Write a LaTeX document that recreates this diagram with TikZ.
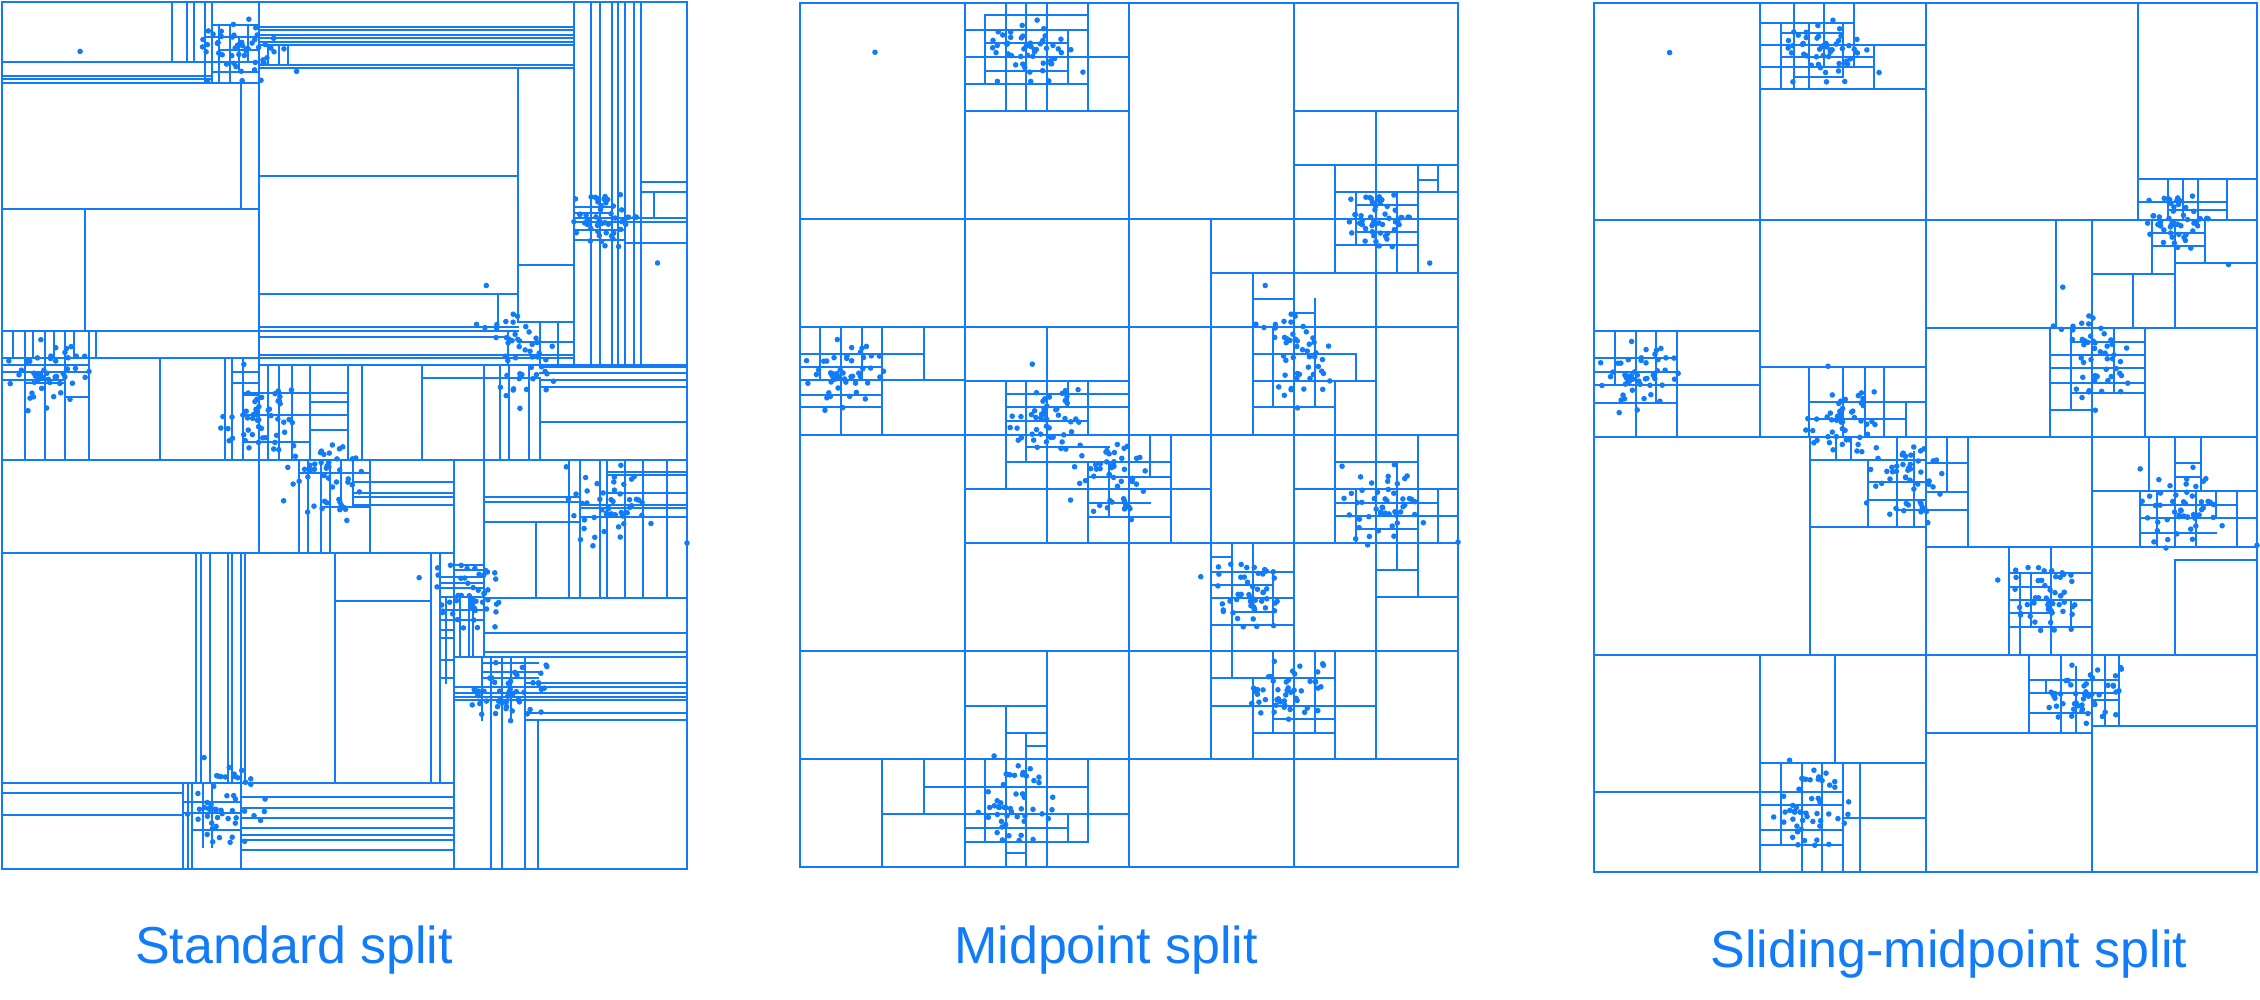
\documentclass[tikz,border=0pt]{standalone}
\usepackage{fontspec}
\setmainfont{Liberation Sans}
\definecolor{kdblue}{RGB}{18,124,248}
\tikzset{
  kd/.style={draw=kdblue, line width=2.3pt, line cap=rect},
  lab/.style={text=kdblue, font=\fontsize{52}{60}\selectfont, anchor=base, inner sep=0pt}
}
\newcommand\kdh[3]{\draw[kd] (#2,#1) -- (#3,#1);}
\newcommand\kdv[3]{\draw[kd] (#1,#2) -- (#1,#3);}
\newcommand\kdcluster[4]{%
  \foreach \k in {1,...,50}{%
    \pgfmathsetmacro\uu{#1+#3*(rand+rand)/2}%
    \pgfmathsetmacro\vv{#2+#4*(rand+rand)/2}%
    \fill[kdblue] (\uu,\vv) circle[radius=2.8pt];}}
\newcommand\kdalldots{%
  \pgfmathsetseed{7}%
  \kdcluster{0.343}{0.054}{0.076}{0.043}%
  \kdcluster{0.065}{0.427}{0.068}{0.049}%
  \kdcluster{0.372}{0.483}{0.070}{0.045}%
  \kdcluster{0.471}{0.550}{0.070}{0.050}%
  \kdcluster{0.878}{0.253}{0.055}{0.040}%
  \kdcluster{0.752}{0.407}{0.075}{0.065}%
  \kdcluster{0.889}{0.581}{0.075}{0.060}%
  \kdcluster{0.684}{0.685}{0.060}{0.050}%
  \kdcluster{0.737}{0.795}{0.070}{0.045}%
  \kdcluster{0.319}{0.928}{0.070}{0.060}%
  \foreach \p in {(0.114,0.057),(0.707,0.327),(0.957,0.301),(0.609,0.664),(1.0,0.624),(0.425,0.556),(0.353,0.418),(0.43,0.08)}{\fill[kdblue] \p circle[radius=2.8pt];}}
\begin{document}
\begin{tikzpicture}[x=1pt,y=-1pt]
\useasboundingbox (0,0) rectangle (2260,1000);
% ================= Panel 1: standard split =================
\draw[kd] (2,2) rectangle (687,869);
\kdh{460}{2}{687}
\kdv{259}{2}{553}
\kdv{454}{460}{869}
\kdh{553}{2}{454}
\kdh{209}{2}{259}
\kdv{574}{2}{365}
\kdh{365}{259}{687}
\kdh{62}{2}{259}
\kdh{76}{2}{212}
\kdh{79}{2}{212}
\kdh{83}{2}{259}
\kdv{241}{83}{209}
\kdv{172}{2}{62}
\kdv{187}{2}{62}
\kdv{194}{2}{62}
\kdv{205}{2}{83}
\kdv{212}{2}{83}
\kdv{219}{25}{83}
\kdv{230}{25}{83}
\kdv{239}{37}{72}
\kdv{248}{25}{62}
\kdh{25}{212}{259}
\kdh{37}{205}{259}
\kdh{50}{219}{259}
\kdh{72}{212}{259}
\kdh{331}{2}{259}
\kdv{85}{209}{331}
\kdh{358}{2}{259}
\foreach \x in {13,25,33,45,54,65,74,89,96} {\kdv{\x}{331}{358}}
\foreach \x in {25,45,65,89,160,225,232} {\kdv{\x}{358}{460}}
\kdh{365}{2}{89}
\kdh{372}{2}{89}
\kdh{380}{2}{65}
\kdh{383}{25}{65}
\kdh{397}{65}{89}
\kdv{243}{358}{460}
\kdh{372}{232}{259}
\kdh{383}{232}{259}
\kdh{395}{243}{259}
\foreach \y in {27,30,35,38,42,45,65,68} {\kdh{\y}{259}{574}}
\kdv{268}{45}{65}
\kdv{279}{45}{65}
\kdv{288}{45}{65}
\kdv{518}{68}{322}
\kdh{176}{259}{518}
\kdh{265}{518}{574}
\kdh{294}{259}{518}
\kdv{498}{294}{327}
\kdh{322}{518}{574}
\kdh{327}{259}{518}
\kdh{331}{259}{518}
\kdh{337}{259}{508}
\kdv{508}{331}{365}
\kdh{355}{259}{574}
\kdh{358}{259}{574}
\kdv{540}{322}{365}
\kdv{558}{322}{365}
\kdh{342}{518}{574}
\foreach \x in {591,600,612,618,625,634,641} {\kdv{\x}{2}{365}}
\kdh{182}{641}{687}
\kdh{192}{641}{687}
\kdv{654}{192}{218}
\kdh{218}{574}{687}
\kdh{222}{574}{687}
\kdh{243}{625}{687}
\kdh{207}{574}{612}
\kdh{213}{574}{612}
\kdh{230}{574}{625}
\kdh{240}{574}{625}
\foreach \y in {367,373,380,387} {\kdh{\y}{540}{687}}
\kdh{422}{540}{687}
\kdv{540}{380}{460}
\foreach \x in {268,279,292,310,348,362,422,484,500,509,529} {\kdv{\x}{365}{460}}
\kdh{378}{422}{540}
\kdh{393}{245}{348}
\kdh{402}{310}{348}
\kdh{415}{245}{348}
\kdh{430}{310}{348}
\kdh{442}{245}{310}
\foreach \x in {299,308,321,330,370} {\kdv{\x}{460}{553}}
\kdv{341}{460}{507}
\kdv{353}{460}{507}
\kdh{473}{299}{370}
\foreach \y in {482,493,497,505} {\kdh{\y}{353}{454}}
\kdh{507}{321}{370}
\foreach \x in {196,201,210,228,232,241,245,335,431,440} {\kdv{\x}{553}{783}}
\kdh{601}{335}{431}
\kdh{783}{2}{454}
\kdh{793}{2}{183}
\kdh{815}{2}{183}
\foreach \x in {183,188,192,241} {\kdv{\x}{783}{869}}
\foreach \y in {797,808,818,828,835,840,850} {\kdh{\y}{243}{454}}
\kdv{203}{783}{847}
\kdv{212}{783}{847}
\kdh{802}{183}{241}
\kdh{813}{183}{241}
\kdh{830}{192}{241}
\kdv{484}{460}{657}
\kdh{497}{484}{580}
\kdh{502}{484}{580}
\kdh{522}{484}{580}
\kdv{536}{522}{598}
\foreach \x in {569,580,600,607,625,643,667} {\kdv{\x}{460}{598}}
\kdh{472}{607}{687}
\kdh{475}{607}{687}
\kdh{493}{607}{687}
\kdh{505}{580}{687}
\kdh{508}{580}{687}
\kdh{517}{580}{687}
\kdh{598}{484}{687}
\kdh{633}{484}{687}
\kdh{652}{484}{687}
\kdh{657}{454}{687}
\kdv{446}{597}{683}
\kdh{565}{454}{484}
\kdh{570}{454}{484}
\foreach \y in {577,583,588,597,610,620} {\kdh{\y}{440}{484}}
\foreach \y in {630,638,660,678} {\kdh{\y}{440}{454}}
\kdv{460}{597}{657}
\kdv{469}{597}{657}
\kdv{473}{597}{657}
\kdh{683}{525}{687}
\foreach \y in {687,693,697,700} {\kdh{\y}{454}{687}}
\kdh{713}{525}{687}
\kdh{720}{525}{687}
\foreach \x in {482,491,502,511} {\kdv{\x}{657}{720}}
\kdh{663}{482}{538}
\kdh{672}{482}{538}
\kdh{678}{482}{538}
\kdv{491}{720}{869}
\kdv{502}{720}{869}
\kdv{525}{657}{869}
\kdv{538}{720}{869}
\begin{scope}[shift={(2pt,-2pt)},x=685pt,y=-867pt]
\kdalldots
\end{scope}
% ================= Panel 2: midpoint split =================
\draw[kd] (800,3) rectangle (1458,867);
\kdh{435}{800}{1458}
\kdv{1129}{3}{867}
\kdh{219}{800}{1458}
\kdh{651}{800}{1458}
\kdv{965}{3}{867}
\kdv{1294}{3}{867}
\kdh{111}{965}{1129}
\kdh{111}{1294}{1458}
\kdh{327}{800}{1458}
\kdh{543}{965}{1458}
\kdh{759}{800}{1458}
\kdv{1211}{219}{759}
\kdv{1376}{111}{759}
\kdv{1047}{3}{111}
\kdv{1047}{327}{543}
\kdv{1047}{651}{867}
\kdv{882}{327}{435}
\kdv{882}{759}{867}
\kdh{165}{1294}{1458}
\kdh{273}{1211}{1458}
\kdh{489}{965}{1211}
\kdh{489}{1294}{1458}
\kdh{597}{1376}{1458}
\kdh{706}{965}{1047}
\kdh{706}{1211}{1376}
\kdv{1253}{678}{759}
\kdv{1335}{651}{759}
\kdv{1232}{543}{678}
\kdv{1273}{651}{733}
\kdv{1315}{651}{733}
\kdh{678}{1211}{1335}
\kdh{719}{1273}{1335}
\kdh{733}{1253}{1335}
\kdv{1253}{543}{597}
\kdh{557}{1211}{1232}
\kdh{572}{1211}{1294}
\kdh{585}{1211}{1273}
\kdh{598}{1211}{1294}
\kdh{612}{1232}{1273}
\kdh{625}{1211}{1294}
\kdv{1273}{572}{625}
\kdv{1006}{435}{489}
\kdv{1026}{435}{462}
\kdv{1088}{462}{543}
\kdv{1109}{462}{517}
\kdh{447}{1026}{1109}
\kdh{462}{1006}{1129}
\kdv{1150}{435}{477}
\kdv{1171}{435}{543}
\kdh{462}{1129}{1171}
\kdh{477}{1088}{1171}
\kdh{503}{1088}{1150}
\kdh{517}{1088}{1171}
\kdv{1335}{435}{543}
\kdv{1356}{489}{543}
\kdv{1397}{462}{570}
\kdv{1418}{435}{597}
\kdv{1438}{489}{543}
\kdh{462}{1335}{1418}
\kdh{503}{1335}{1438}
\kdh{516}{1335}{1458}
\kdh{529}{1356}{1418}
\kdh{570}{1376}{1418}
\kdv{841}{327}{435}
\kdv{924}{327}{380}
\kdv{820}{327}{380}
\kdv{862}{327}{380}
\kdh{354}{800}{924}
\kdh{367}{800}{882}
\kdh{380}{800}{965}
\kdh{395}{800}{882}
\kdh{407}{800}{882}
\kdh{381}{965}{1129}
\kdv{1006}{381}{435}
\kdv{1026}{381}{435}
\kdv{1068}{381}{407}
\kdv{1088}{381}{435}
\kdh{394}{1006}{1129}
\kdh{407}{1006}{1129}
\kdh{421}{1006}{1088}
\kdv{1253}{273}{435}
\kdh{299}{1253}{1294}
\kdv{1315}{299}{407}
\kdh{313}{1294}{1315}
\kdh{354}{1253}{1356}
\kdh{381}{1253}{1376}
\kdh{407}{1253}{1335}
\kdv{1273}{327}{407}
\kdv{1356}{354}{381}
\kdv{1335}{381}{435}
\kdv{985}{15}{84}
\kdv{1006}{3}{111}
\kdv{1026}{3}{111}
\kdv{1068}{30}{84}
\kdv{1088}{3}{111}
\kdh{15}{985}{1088}
\kdh{30}{965}{1088}
\kdh{43}{985}{1068}
\kdh{57}{965}{1129}
\kdh{71}{985}{1068}
\kdh{84}{965}{1088}
\kdv{1335}{165}{273}
\kdv{1418}{165}{273}
\kdh{192}{1335}{1458}
\kdh{245}{1335}{1418}
\kdv{1356}{192}{245}
\kdv{1397}{192}{273}
\kdh{205}{1356}{1418}
\kdh{232}{1356}{1418}
\kdv{1438}{165}{192}
\kdh{180}{1418}{1438}
\kdv{924}{759}{814}
\kdv{985}{759}{842}
\kdv{1006}{706}{867}
\kdv{1026}{733}{867}
\kdv{1068}{814}{842}
\kdv{1088}{759}{842}
\kdh{733}{1006}{1047}
\kdh{746}{1026}{1047}
\kdh{787}{924}{1088}
\kdh{814}{882}{1129}
\kdh{828}{965}{1068}
\kdh{842}{965}{1088}
\kdh{853}{1006}{1026}
\kdh{706}{1294}{1376}
\begin{scope}[shift={(800pt,-3pt)},x=658pt,y=-864pt]
\kdalldots
\end{scope}
% ================= Panel 3: sliding-midpoint split =================
\draw[kd] (1594,3) rectangle (2257,872);
\kdh{437}{1594}{2257}
\kdv{1926}{3}{872}
\kdh{220}{1594}{2257}
\kdv{1760}{3}{437}
\kdv{1760}{655}{872}
\kdh{655}{1594}{2257}
\kdv{2138}{3}{220}
\kdh{179}{2138}{2257}
\kdh{328}{1926}{2257}
\kdv{2092}{220}{872}
\kdv{2056}{220}{328}
\kdv{2050}{328}{437}
\kdv{2152}{220}{274}
\kdv{2175}{220}{328}
\kdv{2205}{220}{263}
\kdh{263}{2175}{2257}
\kdh{274}{2092}{2175}
\kdh{233}{2152}{2205}
\kdh{246}{2152}{2205}
\kdv{2133}{274}{328}
\foreach \x in {2168,2183,2198,2227} {\kdv{\x}{179}{220}}
\kdh{202}{2138}{2227}
\kdh{210}{2168}{2227}
\kdv{2145}{328}{437}
\kdv{2071}{328}{410}
\kdv{2114}{328}{393}
\kdh{342}{2071}{2145}
\kdh{355}{2050}{2145}
\kdh{368}{2050}{2145}
\kdh{383}{2050}{2145}
\kdh{393}{2071}{2145}
\kdh{410}{2050}{2092}
\kdh{89}{1760}{1926}
\kdh{45}{1760}{1926}
\kdv{1874}{45}{89}
\kdv{1781}{23}{89}
\kdv{1794}{3}{89}
\kdv{1809}{23}{89}
\kdv{1824}{3}{67}
\kdv{1843}{23}{77}
\kdv{1854}{3}{67}
\kdh{23}{1760}{1854}
\kdh{33}{1781}{1843}
\kdh{57}{1781}{1874}
\kdh{67}{1760}{1874}
\kdh{77}{1794}{1843}
\kdh{331}{1594}{1760}
\kdv{1677}{331}{437}
\kdh{385}{1594}{1760}
\kdh{358}{1594}{1677}
\kdh{372}{1594}{1677}
\kdh{403}{1594}{1677}
\kdv{1615}{331}{385}
\kdv{1636}{331}{437}
\kdv{1656}{331}{403}
\kdh{367}{1760}{1926}
\kdv{1809}{367}{437}
\kdv{1843}{367}{437}
\kdv{1865}{367}{437}
\kdv{1884}{367}{437}
\kdv{1906}{402}{437}
\kdh{402}{1809}{1926}
\kdh{419}{1809}{1906}
\kdv{1810}{437}{655}
\kdh{527}{1810}{1926}
\kdv{1868}{460}{527}
\kdv{1897}{437}{527}
\kdv{1914}{452}{527}
\kdh{460}{1810}{1926}
\kdh{482}{1868}{1926}
\kdh{500}{1868}{1926}
\kdh{510}{1897}{1926}
\kdv{1836}{437}{460}
\kdv{1851}{437}{460}
\kdh{547}{1926}{2257}
\kdv{1968}{437}{547}
\kdv{1947}{437}{492}
\kdh{463}{1926}{1968}
\kdh{492}{1926}{1968}
\kdh{510}{1926}{1968}
\kdh{491}{2092}{2257}
\kdv{2149}{437}{491}
\kdv{2175}{437}{547}
\kdv{2201}{437}{491}
\kdh{463}{2175}{2201}
\kdh{477}{2175}{2201}
\kdv{2140}{491}{547}
\kdv{2157}{491}{547}
\kdv{2196}{491}{547}
\kdv{2216}{491}{518}
\kdv{2237}{491}{547}
\kdh{505}{2140}{2237}
\kdh{518}{2140}{2257}
\kdh{533}{2140}{2216}
\kdv{2009}{547}{655}
\kdv{2051}{547}{655}
\kdh{573}{2009}{2092}
\kdh{587}{2009}{2051}
\kdh{600}{2009}{2092}
\kdh{613}{2009}{2051}
\kdh{627}{2009}{2092}
\kdv{2020}{573}{655}
\kdv{2031}{573}{627}
\kdv{2071}{600}{627}
\kdh{560}{2175}{2257}
\kdv{2175}{560}{655}
\kdh{733}{1926}{2092}
\kdv{2029}{655}{733}
\kdh{680}{2029}{2119}
\kdh{693}{2029}{2119}
\kdh{713}{2029}{2092}
\kdv{2046}{680}{693}
\kdv{2061}{655}{733}
\kdv{2076}{667}{733}
\kdh{726}{2092}{2257}
\kdv{2119}{655}{726}
\kdh{700}{2092}{2119}
\kdv{2105}{655}{726}
\kdh{792}{1594}{1760}
\kdv{1835}{655}{763}
\kdh{763}{1760}{1926}
\kdv{1860}{763}{872}
\kdv{1781}{763}{845}
\kdv{1802}{763}{872}
\kdv{1822}{763}{872}
\kdv{1843}{763}{872}
\kdh{792}{1760}{1843}
\kdh{818}{1843}{1926}
\kdh{845}{1760}{1843}
\kdh{805}{1760}{1843}
\kdh{830}{1760}{1843}
\begin{scope}[shift={(1594pt,-3pt)},x=663pt,y=-869pt]
\kdalldots
\end{scope}
% ================= Labels =================
\node[lab] (t1) at (294,963) {Standard split};
\node[lab] (t2) at (1106,963) {Midpoint split};
\node[lab] (t3) at (1949,967) {Sliding-midpoint split};
\end{tikzpicture}
\end{document}
